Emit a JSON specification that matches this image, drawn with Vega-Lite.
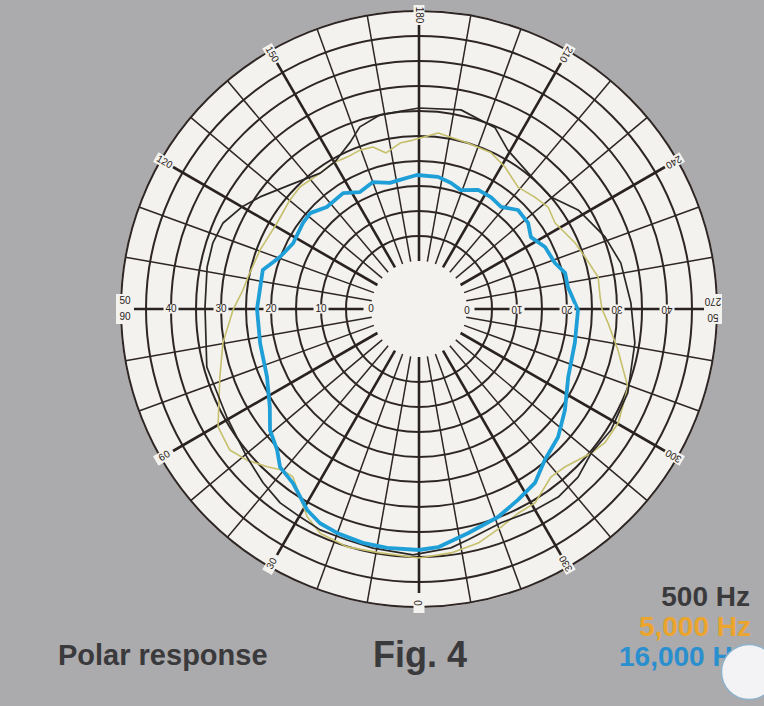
{
  "$schema": "https://vega.github.io/schema/vega-lite/v6.json",
  "width": 764,
  "height": 706,
  "autosize": {"type": "none"},
  "padding": 0,
  "background": "#abaaac",
  "config": {"view": {"stroke": null}},
  "datasets": {
    "origin": [{"name": "center"}],
    "rings": [{"level":5},{"level":10},{"level":15},{"level":20},{"level":25},{"level":30},{"level":35},{"level":40},{"level":45},{"level":50}],
    "spokes": [{"angle":0},{"angle":10},{"angle":20},{"angle":30},{"angle":40},{"angle":50},{"angle":60},{"angle":70},{"angle":80},{"angle":90},{"angle":100},{"angle":110},{"angle":120},{"angle":130},{"angle":140},{"angle":150},{"angle":160},{"angle":170},{"angle":180},{"angle":190},{"angle":200},{"angle":210},{"angle":220},{"angle":230},{"angle":240},{"angle":250},{"angle":260},{"angle":270},{"angle":280},{"angle":290},{"angle":300},{"angle":310},{"angle":320},{"angle":330},{"angle":340},{"angle":350}],
    "angleLabels": [{"angle":0,"label":"0"},{"angle":30,"label":"30"},{"angle":60,"label":"60"},{"angle":90,"label":"90"},{"angle":120,"label":"120"},{"angle":150,"label":"150"},{"angle":180,"label":"180"},{"angle":210,"label":"210"},{"angle":240,"label":"240"},{"angle":270,"label":"270"},{"angle":300,"label":"300"},{"angle":330,"label":"330"}],
    "radialLabels": [{"level":0,"label":"0"},{"level":10,"label":"10"},{"level":20,"label":"20"},{"level":30,"label":"30"},{"level":40,"label":"40"}],
    "legend": [{"series":"500 Hz"},{"series":"5,000 Hz"},{"series":"16,000 Hz"}],
    "curves": [
      {"series":"500 Hz","angle":1.4,"level":39.6},{"series":"500 Hz","angle":10.9,"level":39.1},{"series":"500 Hz","angle":17.3,"level":38.8},{"series":"500 Hz","angle":24.1,"level":38.8},{"series":"500 Hz","angle":29.8,"level":38.3},{"series":"500 Hz","angle":35.6,"level":38.1},{"series":"500 Hz","angle":41.9,"level":37.1},{"series":"500 Hz","angle":49.3,"level":35.8},{"series":"500 Hz","angle":60.6,"level":34.5},{"series":"500 Hz","angle":74.7,"level":34.4},{"series":"500 Hz","angle":90.5,"level":33.2},{"series":"500 Hz","angle":101.2,"level":33.6},{"series":"500 Hz","angle":107.8,"level":33.7},{"series":"500 Hz","angle":113.7,"level":33.2},{"series":"500 Hz","angle":119.9,"level":31.3},{"series":"500 Hz","angle":125.2,"level":29.3},{"series":"500 Hz","angle":133.9,"level":26.2},{"series":"500 Hz","angle":144.0,"level":24.0},{"series":"500 Hz","angle":150.3,"level":24.3},{"series":"500 Hz","angle":157.6,"level":26.5},{"series":"500 Hz","angle":162.0,"level":28.7},{"series":"500 Hz","angle":168.6,"level":30.0},{"series":"500 Hz","angle":180.0,"level":30.6},{"series":"500 Hz","angle":191.9,"level":31.1},{"series":"500 Hz","angle":202.8,"level":29.7},{"series":"500 Hz","angle":209.2,"level":26.8},{"series":"500 Hz","angle":218.7,"level":25.3},{"series":"500 Hz","angle":229.7,"level":25.0},{"series":"500 Hz","angle":238.1,"level":27.9},{"series":"500 Hz","angle":248.8,"level":30.3},{"series":"500 Hz","angle":257.2,"level":31.8},{"series":"500 Hz","angle":268.4,"level":32.8},{"series":"500 Hz","angle":278.9,"level":34.1},{"series":"500 Hz","angle":291.9,"level":35.4},{"series":"500 Hz","angle":302.2,"level":35.8},{"series":"500 Hz","angle":309.9,"level":35.3},{"series":"500 Hz","angle":316.6,"level":36.7},{"series":"500 Hz","angle":323.5,"level":37.2},{"series":"500 Hz","angle":330.0,"level":36.8},{"series":"500 Hz","angle":339.0,"level":36.2},{"series":"500 Hz","angle":348.0,"level":37.6},{"series":"500 Hz","angle":352.4,"level":38.6},{"series":"500 Hz","angle":361.4,"level":39.6},
      {"series":"5,000 Hz","angle":0,"level":40.2},{"series":"5,000 Hz","angle":9.1,"level":39.8},{"series":"5,000 Hz","angle":16.8,"level":40.1},{"series":"5,000 Hz","angle":23.8,"level":39.4},{"series":"5,000 Hz","angle":28.3,"level":37.6},{"series":"5,000 Hz","angle":32.3,"level":34.9},{"series":"5,000 Hz","angle":36.9,"level":32.4},{"series":"5,000 Hz","angle":40.2,"level":32.6},{"series":"5,000 Hz","angle":43.9,"level":34.2},{"series":"5,000 Hz","angle":48.7,"level":36.2},{"series":"5,000 Hz","angle":53.3,"level":37.6},{"series":"5,000 Hz","angle":59.6,"level":37.0},{"series":"5,000 Hz","angle":71.1,"level":32.5},{"series":"5,000 Hz","angle":80.2,"level":30.2},{"series":"5,000 Hz","angle":89.7,"level":27.6},{"series":"5,000 Hz","angle":96.2,"level":25.8},{"series":"5,000 Hz","angle":100.6,"level":25.2},{"series":"5,000 Hz","angle":110.4,"level":24.3},{"series":"5,000 Hz","angle":121.2,"level":23.6},{"series":"5,000 Hz","angle":130.2,"level":24.2},{"series":"5,000 Hz","angle":135.7,"level":24.5},{"series":"5,000 Hz","angle":144.0,"level":24.0},{"series":"5,000 Hz","angle":149.5,"level":24.3},{"series":"5,000 Hz","angle":154.7,"level":24.0},{"series":"5,000 Hz","angle":159.6,"level":24.3},{"series":"5,000 Hz","angle":164.1,"level":24.1},{"series":"5,000 Hz","angle":168.1,"level":22.3},{"series":"5,000 Hz","angle":173.5,"level":23.8},{"series":"5,000 Hz","angle":178.0,"level":24.2},{"series":"5,000 Hz","angle":186.2,"level":25.8},{"series":"5,000 Hz","angle":196.4,"level":25.0},{"series":"5,000 Hz","angle":204.8,"level":24.8},{"series":"5,000 Hz","angle":211.2,"level":23.6},{"series":"5,000 Hz","angle":219.1,"level":21.8},{"series":"5,000 Hz","angle":226.0,"level":22.6},{"series":"5,000 Hz","angle":231.7,"level":23.3},{"series":"5,000 Hz","angle":237.7,"level":22.6},{"series":"5,000 Hz","angle":247.1,"level":24.3},{"series":"5,000 Hz","angle":252.6,"level":25.2},{"series":"5,000 Hz","angle":259.9,"level":26.8},{"series":"5,000 Hz","angle":266.2,"level":26.7},{"series":"5,000 Hz","angle":270.0,"level":27.0},{"series":"5,000 Hz","angle":274.2,"level":28.3},{"series":"5,000 Hz","angle":281.6,"level":31.0},{"series":"5,000 Hz","angle":290.5,"level":35.0},{"series":"5,000 Hz","angle":299.8,"level":36.3},{"series":"5,000 Hz","angle":305.8,"level":36.2},{"series":"5,000 Hz","angle":309.9,"level":35.3},{"series":"5,000 Hz","angle":317.3,"level":33.4},{"series":"5,000 Hz","angle":321.8,"level":33.1},{"series":"5,000 Hz","angle":329.1,"level":35.6},{"series":"5,000 Hz","angle":334.1,"level":35.8},{"series":"5,000 Hz","angle":339.4,"level":37.0},{"series":"5,000 Hz","angle":345.8,"level":38.7},{"series":"5,000 Hz","angle":352.5,"level":39.6},{"series":"5,000 Hz","angle":360,"level":40.2},
      {"series":"16,000 Hz","angle":0,"level":38.6},{"series":"16,000 Hz","angle":7.6,"level":38.6},{"series":"16,000 Hz","angle":13.5,"level":38.5},{"series":"16,000 Hz","angle":20.1,"level":38.1},{"series":"16,000 Hz","angle":24.8,"level":37.6},{"series":"16,000 Hz","angle":29.1,"level":36.4},{"series":"16,000 Hz","angle":35.9,"level":33.4},{"series":"16,000 Hz","angle":41.3,"level":32.5},{"series":"16,000 Hz","angle":45.2,"level":30.4},{"series":"16,000 Hz","angle":50.9,"level":28.8},{"series":"16,000 Hz","angle":56.7,"level":26.1},{"series":"16,000 Hz","angle":65.9,"level":23.7},{"series":"16,000 Hz","angle":77.9,"level":22.9},{"series":"16,000 Hz","angle":90,"level":22.8},{"series":"16,000 Hz","angle":104.0,"level":22.6},{"series":"16,000 Hz","angle":110.5,"level":20.1},{"series":"16,000 Hz","angle":117.6,"level":18.8},{"series":"16,000 Hz","angle":126.6,"level":19.3},{"series":"16,000 Hz","angle":131.4,"level":19.4},{"series":"16,000 Hz","angle":137.9,"level":17.9},{"series":"16,000 Hz","angle":146.8,"level":18.1},{"series":"16,000 Hz","angle":153.2,"level":16.6},{"series":"16,000 Hz","angle":160.1,"level":17.4},{"series":"16,000 Hz","angle":167.0,"level":16.3},{"series":"16,000 Hz","angle":171.6,"level":16.5},{"series":"16,000 Hz","angle":179.1,"level":17.2},{"series":"16,000 Hz","angle":188.2,"level":17.1},{"series":"16,000 Hz","angle":194.3,"level":16.4},{"series":"16,000 Hz","angle":199.4,"level":15.6},{"series":"16,000 Hz","angle":206.4,"level":17.0},{"series":"16,000 Hz","angle":212.7,"level":17.0},{"series":"16,000 Hz","angle":218.8,"level":16.6},{"series":"16,000 Hz","angle":225.0,"level":18.4},{"series":"16,000 Hz","angle":231.7,"level":18.2},{"series":"16,000 Hz","angle":237.3,"level":17.0},{"series":"16,000 Hz","angle":243.8,"level":18.5},{"series":"16,000 Hz","angle":251.3,"level":19.1},{"series":"16,000 Hz","angle":256.1,"level":20.5},{"series":"16,000 Hz","angle":261.6,"level":20.5},{"series":"16,000 Hz","angle":267.8,"level":21.6},{"series":"16,000 Hz","angle":270.4,"level":22.2},{"series":"16,000 Hz","angle":282.3,"level":22.3},{"series":"16,000 Hz","angle":294.5,"level":23.2},{"series":"16,000 Hz","angle":304.7,"level":25.9},{"series":"16,000 Hz","angle":312.6,"level":28.2},{"series":"16,000 Hz","angle":320.2,"level":29.7},{"series":"16,000 Hz","angle":326.3,"level":32.2},{"series":"16,000 Hz","angle":332.6,"level":33.4},{"series":"16,000 Hz","angle":339.2,"level":34.9},{"series":"16,000 Hz","angle":347.7,"level":36.3},{"series":"16,000 Hz","angle":355.4,"level":38.2},{"series":"16,000 Hz","angle":360,"level":38.6}
    ]
  },
  "encoding": {
    "x": {"field": "px", "type": "quantitative", "scale": {"domain": [-83.8, 69], "nice": false, "zero": false}, "axis": null},
    "y": {"field": "py", "type": "quantitative", "scale": {"domain": [-79.4, 61.8], "nice": false, "zero": false}, "axis": null}
  },
  "layer": [
    {
      "data": {"name": "origin"},
      "transform": [{"calculate": "0", "as": "px"}, {"calculate": "0", "as": "py"}],
      "mark": {"type": "point", "shape": "circle", "filled": true, "size": 357604, "color": "#f3f2ee", "opacity": 1, "strokeWidth": 0}
    },
    {
      "data": {"name": "rings"},
      "transform": [{"calculate": "datum.level + 9.6", "as": "R"}, {"calculate": "0", "as": "px"}, {"calculate": "0", "as": "py"}],
      "mark": {"type": "point", "shape": "circle", "filled": false, "color": "#2e2624", "strokeWidth": 2, "opacity": 1},
      "encoding": {
        "size": {"field": "R", "type": "quantitative", "scale": {"type": "pow", "exponent": 2, "domain": [0, 60], "range": [0, 360000]}, "legend": null}
      }
    },
    {
      "data": {"name": "spokes"},
      "transform": [
        {"filter": "datum.angle % 30 != 0"},
        {"calculate": "-9.6 * sin(datum.angle * PI / 180)", "as": "px"},
        {"calculate": "-9.6 * cos(datum.angle * PI / 180)", "as": "py"},
        {"calculate": "-59.6 * sin(datum.angle * PI / 180)", "as": "px2"},
        {"calculate": "-59.6 * cos(datum.angle * PI / 180)", "as": "py2"}
      ],
      "mark": {"type": "rule", "color": "#2e2624", "strokeWidth": 1.5},
      "encoding": {"x2": {"field": "px2"}, "y2": {"field": "py2"}}
    },
    {
      "data": {"name": "spokes"},
      "transform": [
        {"filter": "datum.angle % 30 == 0"},
        {"calculate": "-9.6 * sin(datum.angle * PI / 180)", "as": "px"},
        {"calculate": "-9.6 * cos(datum.angle * PI / 180)", "as": "py"},
        {"calculate": "-59.6 * sin(datum.angle * PI / 180)", "as": "px2"},
        {"calculate": "-59.6 * cos(datum.angle * PI / 180)", "as": "py2"}
      ],
      "mark": {"type": "rule", "color": "#2a2220", "strokeWidth": 2.6},
      "encoding": {"x2": {"field": "px2"}, "y2": {"field": "py2"}}
    },
    {
      "data": {"name": "curves"},
      "transform": [
        {"filter": "datum.series == '5,000 Hz'"},
        {"calculate": "-(datum.level + 9.6) * sin(datum.angle * PI / 180)", "as": "px"},
        {"calculate": "-(datum.level + 9.6) * cos(datum.angle * PI / 180)", "as": "py"}
      ],
      "mark": {"type": "line", "interpolate": "linear", "strokeJoin": "round", "color": "#c6bf6c", "strokeWidth": 1.6},
      "encoding": {"order": {"field": "angle", "type": "quantitative"}}
    },
    {
      "data": {"name": "curves"},
      "transform": [
        {"filter": "datum.series == '500 Hz'"},
        {"calculate": "-(datum.level + 9.6) * sin(datum.angle * PI / 180)", "as": "px"},
        {"calculate": "-(datum.level + 9.6) * cos(datum.angle * PI / 180)", "as": "py"}
      ],
      "mark": {"type": "line", "interpolate": "linear", "strokeJoin": "round", "color": "#2b2727", "strokeWidth": 1.7},
      "encoding": {"order": {"field": "angle", "type": "quantitative"}}
    },
    {
      "data": {"name": "curves"},
      "transform": [
        {"filter": "datum.series == '16,000 Hz'"},
        {"calculate": "-(datum.level + 9.6) * sin(datum.angle * PI / 180)", "as": "px"},
        {"calculate": "-(datum.level + 9.6) * cos(datum.angle * PI / 180)", "as": "py"}
      ],
      "mark": {"type": "line", "interpolate": "linear", "strokeJoin": "round", "color": "#1f9fd8", "strokeWidth": 3.8},
      "encoding": {"order": {"field": "angle", "type": "quantitative"}}
    },
    {
      "data": {"name": "angleLabels"},
      "transform": [
        {"filter": "datum.angle != 90 && datum.angle != 270"},
        {"calculate": "-(49.2 + 9.6) * sin(datum.angle * PI / 180)", "as": "px"},
        {"calculate": "-(49.2 + 9.6) * cos(datum.angle * PI / 180)", "as": "py"},
        {"calculate": "datum.angle - 90", "as": "rot"}
      ],
      "mark": {"type": "point", "shape": "M-1,-0.55H1V0.55H-1Z", "filled": true, "size": 400, "color": "#f3f2ee", "opacity": 1, "strokeWidth": 0},
      "encoding": {"angle": {"field": "rot", "type": "quantitative", "scale": null}}
    },
    {
      "data": {"name": "angleLabels"},
      "transform": [
        {"filter": "datum.angle == 90 || datum.angle == 270"},
        {"calculate": "-(49.2 + 9.6) * sin(datum.angle * PI / 180)", "as": "px"},
        {"calculate": "-(49.2 + 9.6) * cos(datum.angle * PI / 180)", "as": "py"},
        {"calculate": "datum.angle - 90", "as": "rot"}
      ],
      "mark": {"type": "point", "shape": "M-0.6,-1H0.6V1H-0.6Z", "filled": true, "size": 900, "color": "#f3f2ee", "opacity": 1, "strokeWidth": 0},
      "encoding": {"angle": {"field": "rot", "type": "quantitative", "scale": null}}
    },
    {
      "data": {"name": "angleLabels"},
      "transform": [
        {"filter": "datum.angle != 90 && datum.angle != 270"},
        {"calculate": "-(49.2 + 9.6) * sin(datum.angle * PI / 180)", "as": "px"},
        {"calculate": "-(49.2 + 9.6) * cos(datum.angle * PI / 180)", "as": "py"},
        {"calculate": "datum.angle - 90", "as": "rot"}
      ],
      "mark": {"type": "text", "font": "Liberation Sans", "fontSize": 10, "color": "#2a2220", "align": "center", "baseline": "middle"},
      "encoding": {"text": {"field": "label"}, "angle": {"field": "rot", "type": "quantitative", "scale": null}}
    },
    {
      "data": {"name": "angleLabels"},
      "transform": [
        {"filter": "datum.angle == 90 || datum.angle == 270"},
        {"calculate": "-(49.2 + 9.6) * sin(datum.angle * PI / 180)", "as": "px"},
        {"calculate": "-(49.2 + 9.6) * cos(datum.angle * PI / 180)", "as": "py"},
        {"calculate": "datum.angle - 90", "as": "rot"}
      ],
      "mark": {"type": "text", "font": "Liberation Sans", "fontSize": 10, "color": "#2a2220", "align": "center", "baseline": "middle", "dy": 8},
      "encoding": {"text": {"field": "label"}, "angle": {"field": "rot", "type": "quantitative", "scale": null}}
    },
    {
      "data": {"name": "angleLabels"},
      "transform": [
        {"filter": "datum.angle == 90 || datum.angle == 270"},
        {"calculate": "-(49.2 + 9.6) * sin(datum.angle * PI / 180)", "as": "px"},
        {"calculate": "-(49.2 + 9.6) * cos(datum.angle * PI / 180)", "as": "py"},
        {"calculate": "datum.angle - 90", "as": "rot"}
      ],
      "mark": {"type": "text", "font": "Liberation Sans", "fontSize": 10, "color": "#2a2220", "align": "center", "baseline": "middle", "dy": -8, "text": "50"},
      "encoding": {"angle": {"field": "rot", "type": "quantitative", "scale": null}}
    },
    {
      "data": {"name": "radialLabels"},
      "transform": [
        {"calculate": "-(datum.level + 9.6)", "as": "px"},
        {"calculate": "0", "as": "py"}
      ],
      "mark": {"type": "point", "shape": "M-1,-0.6H1V0.6H-1Z", "filled": true, "size": 225, "color": "#f3f2ee", "opacity": 1, "strokeWidth": 0}
    },
    {
      "data": {"name": "radialLabels"},
      "transform": [
        {"calculate": "(datum.level + 9.6)", "as": "px"},
        {"calculate": "0", "as": "py"}
      ],
      "mark": {"type": "point", "shape": "M-1,-0.6H1V0.6H-1Z", "filled": true, "size": 225, "color": "#f3f2ee", "opacity": 1, "strokeWidth": 0}
    },
    {
      "data": {"name": "radialLabels"},
      "transform": [
        {"calculate": "-(datum.level + 9.6)", "as": "px"},
        {"calculate": "0", "as": "py"}
      ],
      "mark": {"type": "text", "font": "Liberation Sans", "fontSize": 10, "color": "#2a2220", "align": "center", "baseline": "middle"},
      "encoding": {"text": {"field": "label"}}
    },
    {
      "data": {"name": "radialLabels"},
      "transform": [
        {"calculate": "(datum.level + 9.6)", "as": "px"},
        {"calculate": "0", "as": "py"}
      ],
      "mark": {"type": "text", "font": "Liberation Sans", "fontSize": 10, "color": "#2a2220", "align": "center", "baseline": "middle", "angle": 180},
      "encoding": {"text": {"field": "label"}}
    },
    {
      "data": {"name": "origin"},
      "transform": [{"calculate": "-72.2", "as": "px"}, {"calculate": "-71.2", "as": "py"}],
      "mark": {"type": "text", "text": "Polar response", "font": "Liberation Sans", "fontWeight": "bold", "fontSize": 29, "color": "#3a393c", "align": "left", "baseline": "alphabetic"}
    },
    {
      "data": {"name": "origin"},
      "transform": [{"calculate": "-9.2", "as": "px"}, {"calculate": "-71.6", "as": "py"}],
      "mark": {"type": "text", "text": "Fig. 4", "font": "Liberation Sans", "fontWeight": "bold", "fontSize": 36, "color": "#3a393c", "align": "left", "baseline": "alphabetic"}
    },
    {
      "data": {"name": "legend"},
      "transform": [{"filter": "datum.series == '500 Hz'"}, {"calculate": "66.2", "as": "px"}, {"calculate": "-59.4", "as": "py"}],
      "mark": {"type": "text", "font": "Liberation Sans", "fontWeight": "bold", "fontSize": 28, "color": "#3a393c", "align": "right", "baseline": "alphabetic"},
      "encoding": {"text": {"field": "series"}}
    },
    {
      "data": {"name": "legend"},
      "transform": [{"filter": "datum.series == '5,000 Hz'"}, {"calculate": "66.4", "as": "px"}, {"calculate": "-65.3", "as": "py"}],
      "mark": {"type": "text", "font": "Liberation Sans", "fontWeight": "bold", "fontSize": 28, "color": "#eba42c", "align": "right", "baseline": "alphabetic"},
      "encoding": {"text": {"field": "series"}}
    },
    {
      "data": {"name": "legend"},
      "transform": [{"filter": "datum.series == '16,000 Hz'"}, {"calculate": "40.0", "as": "px"}, {"calculate": "-71.4", "as": "py"}],
      "mark": {"type": "text", "font": "Liberation Sans", "fontWeight": "bold", "fontSize": 28, "color": "#2a8fcf", "align": "left", "baseline": "alphabetic"},
      "encoding": {"text": {"field": "series"}}
    },
    {
      "data": {"name": "origin"},
      "transform": [{"calculate": "66.0", "as": "px"}, {"calculate": "-72.6", "as": "py"}],
      "mark": {"type": "point", "shape": "circle", "filled": true, "size": 3025, "color": "#f3f3f5", "opacity": 1, "stroke": "#8fb2cc", "strokeWidth": 1.5}
    }
  ]
}
